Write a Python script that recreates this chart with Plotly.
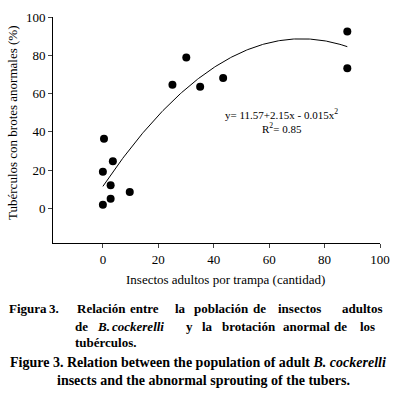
import numpy as np
import plotly.graph_objects as go

# Data
insects = [88.2, 88.2, 30.1, 25.1, 35.1, 43.4, 0.4, 3.6, 0.0, 2.8, 9.7, 2.8, 0.0]
sprouting = [92.4, 73.2, 78.8, 64.6, 63.6, 68.2, 36.4, 24.7, 19.2, 12.1, 8.6, 5.1, 2.0]
fit_coef = [11.57, 2.15, -0.015]  # y = a + b x + c x^2 (from chart annotation)
fit_xmax = 88.2
x_ticks = [0, 20, 40, 60, 80, 100]
y_ticks = [0, 20, 40, 60, 80, 100]

W, H = 400, 396
L, R, T, B = 53, 18, 10, 153
PW, PH = W - L - R, H - T - B

def px(xp):
    return (xp - L) / PW

def py(yp):
    return (T + PH - yp) / PH

fx = np.linspace(0, fit_xmax, 200)
fy = fit_coef[0] + fit_coef[1] * fx + fit_coef[2] * fx ** 2

fig = go.Figure()
fig.add_trace(go.Scatter(x=fx, y=fy, mode="lines",
                         line=dict(color="black", width=1), hoverinfo="skip"))
fig.add_trace(go.Scatter(x=insects, y=sprouting, mode="markers",
                         marker=dict(color="black", size=8, symbol="circle")))

serif = "Liberation Serif, Times New Roman, serif"
fig.update_layout(
    width=W, height=H, margin=dict(l=L, r=R, t=T, b=B),
    paper_bgcolor="white", plot_bgcolor="white", showlegend=False,
    font=dict(family=serif, size=13, color="black"),
    xaxis=dict(range=[-18, 100], tickvals=x_ticks, ticks="outside", ticklen=4,
               showline=True, linecolor="black", linewidth=1, showgrid=False,
               zeroline=False, tickfont=dict(size=13, family=serif)),
    yaxis=dict(range=[-18, 100], tickvals=y_ticks, ticks="outside", ticklen=4,
               showline=True, linecolor="black", linewidth=1, showgrid=False,
               zeroline=False, tickfont=dict(size=13, family=serif)),
)

ann = []
ann.append(dict(x=px(227), y=py(281), xref="paper", yref="paper", showarrow=False,
                text="Insectos adultos por trampa (cantidad)", font=dict(size=13, family=serif),
                xanchor="center", yanchor="middle"))
ann.append(dict(x=px(12), y=py(119), xref="paper", yref="paper", showarrow=False,
                text="Tubérculos con brotes anormales (%)", textangle=-90,
                font=dict(size=13, family=serif), xanchor="center", yanchor="middle"))
ann.append(dict(x=px(283), y=py(110), xref="paper", yref="paper", showarrow=False,
                text="y= 11.57+2.15x - 0.015x<sup>2</sup>", font=dict(size=11, family=serif),
                xanchor="center", yanchor="middle"))
ann.append(dict(x=px(283), y=py(124), xref="paper", yref="paper", showarrow=False,
                text="R<sup>2</sup>= 0.85", font=dict(size=11, family=serif),
                xanchor="center", yanchor="middle"))

# Justified Spanish caption: words placed individually
words = [
    (311, [(7, "Figura"), (47, "3."), (75, "Relación"), (128, "entre"), (174, "la"),
           (193, "población"), (252, "de"), (277, "insectos"), (342, "adultos")]),
    (329, [(73, "de"), (95, "<i>B.</i>"), (110, "<i>cockerelli</i>"), (185, "y"), (201, "la"),
           (221, "brotación"), (282, "anormal"), (334, "de"), (360, "los")]),
    (346, [(73, "tubérculos.")]),
]
for yp_, ws in words:
    for xp_, t in ws:
        ann.append(dict(x=px(xp_), y=py(yp_), xref="paper", yref="paper", showarrow=False,
                        text="<b>" + t + "</b>", font=dict(size=13, family=serif),
                        xanchor="left", yanchor="middle"))

cap = [
    (8, 366, "<b>Figure 3. Relation between the population of adult <i>B. cockerelli</i></b>"),
    (55, 385, "<b>insects and the abnormal sprouting of the tubers.</b>"),
]
for xp_, yp_, t in cap:
    ann.append(dict(x=px(xp_), y=py(yp_), xref="paper", yref="paper", showarrow=False,
                    text=t, font=dict(size=14, family=serif),
                    xanchor="left", yanchor="middle"))
fig.update_layout(annotations=ann)

fig.write_html("out.html", config={"displayModeBar": False},
               post_script="document.body.style.margin='0';document.body.style.padding='0';")
